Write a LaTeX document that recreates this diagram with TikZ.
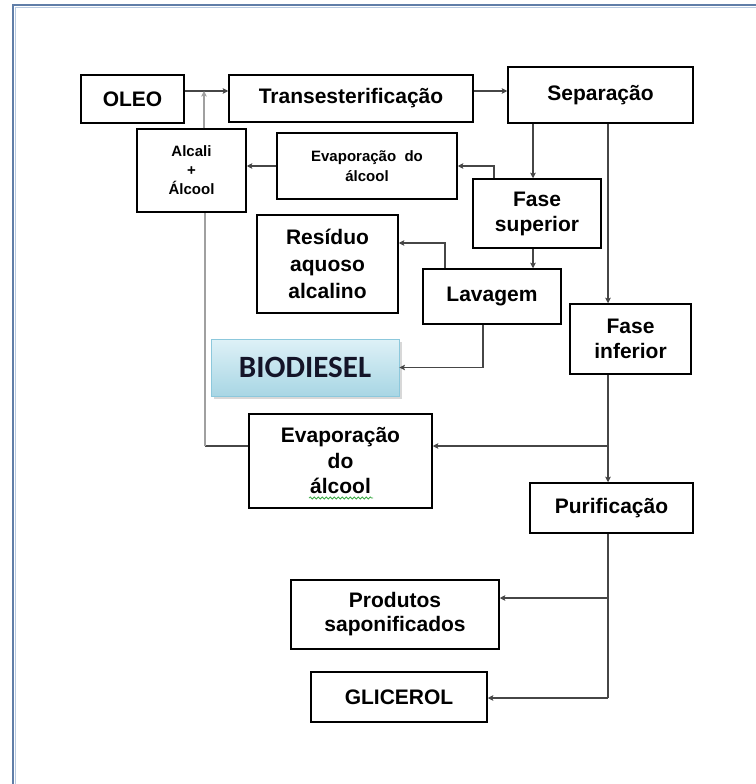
\documentclass[tikz,border=0pt]{standalone}
\usepackage{fontspec}
\setmainfont{Liberation Sans}
\newfontfamily\biofont{Carlito}
\usetikzlibrary{arrows.meta,shadows,decorations.pathmorphing,calc}
\definecolor{framedark}{RGB}{96,126,168}
\definecolor{framelight}{RGB}{184,202,224}
\definecolor{linegray}{RGB}{70,70,70}
\definecolor{lightline}{RGB}{160,160,160}
\definecolor{biotop}{RGB}{222,241,247}
\definecolor{biobot}{RGB}{168,214,228}
\definecolor{bioedge}{RGB}{140,200,220}
\definecolor{squiggle}{RGB}{60,170,70}
\definecolor{biotext}{RGB}{20,20,40}
\begin{document}
\begin{tikzpicture}[x=1pt,y=-1pt,
 box/.style={draw=black, line width=1.5pt, fill=white, align=center, inner sep=0pt,
   font=\fontsize{21}{25}\selectfont\bfseries,
   drop shadow={shadow xshift=1.2pt, shadow yshift=-1.2pt, opacity=0.35}},
 smallbox/.style={box, font=\fontsize{15}{20}\selectfont\bfseries},
 conn/.style={draw=linegray, line width=1.1pt},
 arr/.style={conn, -{Stealth[length=5.5pt,width=5.5pt,inset=1pt]}},
]
\useasboundingbox (0,0) rectangle (755,784);
\fill[white] (0,0) rectangle (755,784);
% frame
\draw[framelight, line width=1.2pt] (15.6,790) -- (15.6,7.4) -- (760,7.4);
\draw[framedark, line width=2.4pt] (13,790) -- (13,5) -- (760,5);

% nodes
\node[box, minimum width=103pt, minimum height=48pt] (oleo) at (132.5,99) {OLEO};
\node[box, minimum width=244pt, minimum height=47pt] (trans) at (351,98.5) {Transesterificação};
\node[box, minimum width=185pt, minimum height=56pt] (sep) at (600.5,95) {Separação};
\node[smallbox, minimum width=109pt, minimum height=83pt, font=\fontsize{15}{19}\selectfont\bfseries] (alcali) at (191.5,170.5) {Alcali\\+\\Álcool};
\node[smallbox, minimum width=180pt, minimum height=66pt] (evap1) at (367,166) {Evaporação\ \ do\\álcool};
\node[box, minimum width=128pt, minimum height=69pt] (fsup) at (537,213.5) {Fase\\superior};
\node[box, minimum width=141pt, minimum height=98pt, font=\fontsize{21}{27}\selectfont\bfseries] (res) at (327.5,264) {Resíduo\\aquoso\\alcalino};
\node[box, minimum width=138pt, minimum height=55pt] (lav) at (492,296.5) {Lavagem};
\node[draw=bioedge, line width=0.8pt, top color=biotop, bottom color=biobot,
  minimum width=188pt, minimum height=57pt, text=biotext,
  font=\biofont\fontsize{31}{31}\selectfont\bfseries,
  drop shadow={shadow xshift=3pt, shadow yshift=-3pt, opacity=0.3}] (bio) at (305,367.5) {BIODIESEL};
\node[box, minimum width=121pt, minimum height=70pt] (finf) at (630.5,339) {Fase\\inferior};
\node[box, minimum width=183pt, minimum height=94pt, font=\fontsize{21}{25.5}\selectfont\bfseries] (evap2) at (340.5,461) {Evaporação\\do\\álcool};
\node[box, minimum width=163pt, minimum height=50pt] (pur) at (611.5,508) {Purificação};
\node[box, minimum width=208pt, minimum height=69pt, font=\fontsize{21}{24}\selectfont\bfseries] (prod) at (395,614.5) {Produtos\\saponificados};
\node[box, minimum width=176pt, minimum height=50pt] (glic) at (399,697) {GLICEROL};

% spell-check squiggle
\draw[squiggle, line width=0.8pt, decorate, decoration={snake, segment length=4pt, amplitude=1pt}] (309,498) -- (373,498);

% connectors
\coordinate (jo) at (204,91);
\draw[arr] (oleo.east |- jo) -- (trans.west |- jo);
\draw[arr, draw=lightline] (alcali.north -| jo) -- (jo);
\draw[arr] (trans.east |- jo) -- (sep.west |- jo);
\draw[arr] (evap1.west) -- (alcali.east |- evap1.west);
\coordinate (xa) at (533,0);
\draw[arr] (sep.south -| xa) -- (fsup.north -| xa);
\coordinate (xb) at (494,0);
\draw[arr] (fsup.north -| xb) |- (evap1.east);
\coordinate (xc) at (608,0);
\draw[arr] (sep.south -| xc) -- (finf.north -| xc);
\draw[arr] (fsup.south -| xa) -- (lav.north -| xa);
\coordinate (xd) at (445,243);
\draw[arr] (lav.north -| xd) |- (res.east |- xd);
\coordinate (xe) at (483,0);
\draw[arr] (lav.south -| xe) |- (bio.east);
\draw[arr] (finf.south -| xc) -- (pur.north -| xc);
\coordinate (je) at (608,446);
\draw[arr] (je) -- (evap2.east |- je);
\coordinate (xf) at (205,0);
\draw[conn] (evap2.west |- je) -- (je -| xf);
\draw[conn, draw=lightline] (je -| xf) -- (alcali.south -| xf);
\coordinate (jp) at (608,598);
\coordinate (jg) at (608,698);
\draw[conn] (pur.south -| xc) -- (jg);
\draw[arr] (jp) -- (prod.east |- jp);
\draw[arr] (jg) -- (glic.east |- jg);
\end{tikzpicture}
\end{document}
